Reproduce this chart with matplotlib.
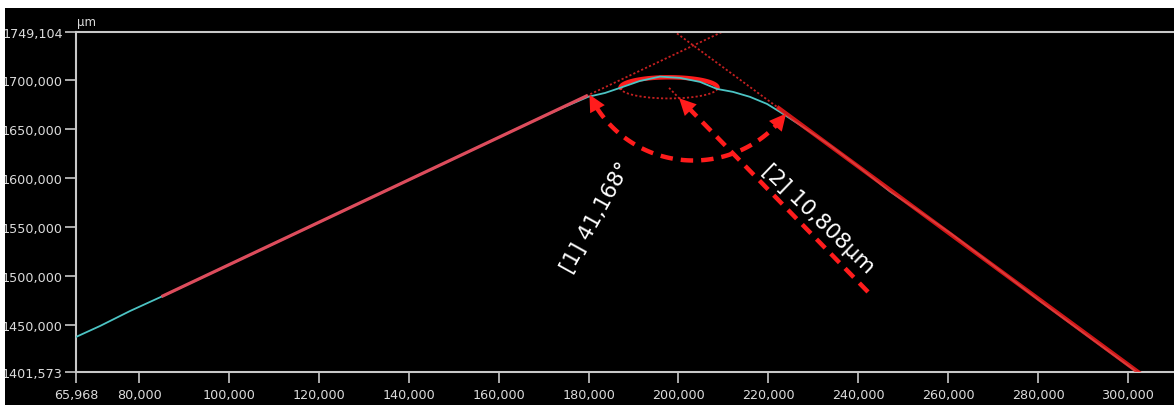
import numpy as np
import matplotlib
matplotlib.use("Agg")
import matplotlib.pyplot as plt
from matplotlib.patches import Rectangle

# measured profile (x and height in µm)
profile_x = [65.968, 71.31, 77.98, 85.32, 93.55, 104.68, 115.80, 126.92, 138.05,
             149.17, 160.29, 169.19, 173.64, 179.87, 183.66, 187.00, 191.44,
             195.89, 200.34, 204.79, 208.57, 212.13, 215.91, 219.69, 222.59,
             227.04, 233.71, 240.39, 247.06, 253.73, 260.41, 267.08, 273.76,
             280.43, 287.10, 293.78, 300.45, 304.90]
profile_y = [1437.4, 1448.6, 1463.9, 1479.3, 1497.2, 1521.3, 1545.4, 1569.6, 1593.7,
             1617.8, 1642.0, 1661.3, 1670.5, 1682.8, 1686.8, 1692.0, 1699.1,
             1703.5, 1702.2, 1698.1, 1690.9, 1687.9, 1682.8, 1675.6, 1667.4,
             1654.1, 1633.2, 1610.2, 1586.1, 1565.2, 1543.7, 1520.7, 1497.7,
             1474.2, 1451.7, 1429.2, 1406.7, 1391.3]

# fitted flank lines: anchor point, slope, fitted x-range
left_anchor = (65.968, 1437.4)
left_slope = 2.169
left_fit_range = (85.3, 179.5)
right_anchor = (199.5, 1748.2)
right_slope = -3.373
right_fit_range = (222.3, 303.5)

# tip circle fit
circle_center = (197.9, 1692.0)
circle_radius = 10.808

# label leader tail for [2]
radius_tail = (242.17, 1483.4)

angle_text = "[1] 41,168°"
radius_text = "[2] 10,808µm"

x_ticks = [65.968, 80, 100, 120, 140, 160, 180, 200, 220, 240, 260, 280, 300]
y_ticks = [1401.573, 1450, 1500, 1550, 1600, 1650, 1700, 1749.104]
x_lim = (65.968, 310.24)
y_lim = (1401.573, 1749.104)

RED = "#ff1c1c"
DARK_RED = "#c42020"
CYAN = "#4cc4c4"
GRID_GRAY = "#c8c8c8"
LABEL_GRAY = "#dcdcdc"


def fmt(v):
    return f"{v:.3f}".replace(".", ",")


def line_y(anchor, slope, xs):
    xs = np.asarray(xs, dtype=float)
    return anchor[1] + slope * (xs - anchor[0])


W, H = 1174, 406
fig = plt.figure(figsize=(W / 100, H / 100), dpi=100, facecolor="white")
fig.add_artist(Rectangle((5 / W, 0), 1, (H - 9) / H, transform=fig.transFigure,
                         facecolor="black", edgecolor="none", zorder=0))

ax = fig.add_axes([76 / W, 33 / H, (W - 76) / W, 340 / H])
ax.set_facecolor("black")
ax.set_xlim(*x_lim)
ax.set_ylim(*y_lim)

for side in ["top", "left", "bottom"]:
    ax.spines[side].set_color(GRID_GRAY)
    ax.spines[side].set_linewidth(1.5)
ax.spines["right"].set_visible(False)

ax.set_xticks(x_ticks)
ax.set_xticklabels([fmt(v) for v in x_ticks])
ax.set_yticks(y_ticks)
ax.set_yticklabels([fmt(v) for v in y_ticks])
ax.tick_params(axis="both", direction="out", length=8, width=1.2,
               color=GRID_GRAY, labelcolor=LABEL_GRAY, labelsize=9.2)
ax.tick_params(axis="x", pad=3.5)
ax.tick_params(axis="y", pad=1.5)

dotted = dict(color=DARK_RED, lw=1.3, dashes=(1.2, 1.2), zorder=2)

# dotted extensions of the fitted flanks
lx = np.array([left_fit_range[1], 215])
ax.plot(lx, line_y(left_anchor, left_slope, lx), **dotted)
rx = np.array([195, right_fit_range[0]])
ax.plot(rx, line_y(right_anchor, right_slope, rx), **dotted)

# fitted circle: top half thick, bottom half dotted
t_top = np.linspace(0, np.pi, 80)
ax.plot(circle_center[0] + circle_radius * np.cos(t_top),
        circle_center[1] + circle_radius * np.sin(t_top),
        color=RED, lw=3.2, solid_capstyle="round", zorder=3)
t_bot = np.linspace(np.pi, 2 * np.pi, 80)
ax.plot(circle_center[0] + circle_radius * np.cos(t_bot),
        circle_center[1] + circle_radius * np.sin(t_bot), **dotted)

# profile
ax.plot(profile_x, profile_y, color=CYAN, lw=1.3, zorder=4)

# flank fits on top of the profile
rfx = np.array(right_fit_range)
ax.plot(rfx, line_y(right_anchor, right_slope, rfx), color=RED, lw=3.0, alpha=0.82, zorder=5)
lfx = np.array(left_fit_range)
ax.plot(lfx, line_y(left_anchor, left_slope, lfx), color="#dd4c5c", lw=2.3, zorder=5)

to_disp = ax.transData.transform
to_data = ax.transData.inverted().transform


def arrow_head(tip, base):
    ax.annotate("", xy=tip, xytext=base,
                arrowprops=dict(arrowstyle="-|>,head_length=1.0,head_width=0.5",
                                mutation_scale=12, color=RED, lw=0,
                                shrinkA=0, shrinkB=0), zorder=6)


dash = dict(color=RED, lw=3.2, dashes=(2.8, 1.8), zorder=6)
head_px = 15

# [1] angle arc between the flanks, drawn in screen space
xi = (right_anchor[1] - left_anchor[1] + left_slope * left_anchor[0]
      - right_slope * right_anchor[0]) / (left_slope - right_slope)
yi = line_y(left_anchor, left_slope, [xi])[0]
pi_d = to_disp((xi, yi))
pl_d = to_disp((xi - 10, line_y(left_anchor, left_slope, [xi - 10])[0]))
pr_d = to_disp((xi + 10, line_y(right_anchor, right_slope, [xi + 10])[0]))
phi_l = np.arctan2(pl_d[1] - pi_d[1], pl_d[0] - pi_d[0]) % (2 * np.pi)
phi_r = np.arctan2(pr_d[1] - pi_d[1], pr_d[0] - pi_d[0]) % (2 * np.pi)
arc_r = 115
delta = head_px / arc_r
phis = np.linspace(phi_l + delta, phi_r - delta, 120)
arc_d = np.column_stack([pi_d[0] + arc_r * np.cos(phis), pi_d[1] + arc_r * np.sin(phis)])
arc = to_data(arc_d)
ax.plot(arc[:, 0], arc[:, 1], **dash)
for a_tip, a_base in [(phi_l, phi_l + delta), (phi_r, phi_r - delta)]:
    tip = to_data((pi_d[0] + arc_r * np.cos(a_tip), pi_d[1] + arc_r * np.sin(a_tip)))
    base = to_data((pi_d[0] + arc_r * np.cos(a_base), pi_d[1] + arc_r * np.sin(a_base)))
    arrow_head(tip, base)

# [2] radius leader pointing at the circle
t = np.arctan2(radius_tail[1] - circle_center[1], radius_tail[0] - circle_center[0])
tip = (circle_center[0] + circle_radius * np.cos(t), circle_center[1] + circle_radius * np.sin(t))
ax.plot([circle_center[0], tip[0]], [circle_center[1], tip[1]], **dotted)
tip_d = to_disp(tip)
tail_d = to_disp(radius_tail)
u = (tail_d - tip_d) / np.hypot(*(tail_d - tip_d))
base = to_data(tip_d + u * head_px)
ax.plot([radius_tail[0], base[0]], [radius_tail[1], base[1]], **dash)
arrow_head(tip, base)

# labels
ax.text(181.7, 1560.5, angle_text, color="white", fontsize=15.5, rotation=61,
        ha="center", va="center", rotation_mode="anchor", zorder=7)
ax.text(231.0, 1558.5, radius_text, color="white", fontsize=15.5, rotation=-44,
        ha="center", va="center", rotation_mode="anchor", zorder=7)

fig.text(77 / W, (H - 29) / H, "µm", color=LABEL_GRAY, fontsize=8.5, va="bottom")

# white border strips of the screenshot
fig.add_artist(Rectangle((0, 0), 5 / W, 1, transform=fig.transFigure,
                         facecolor="white", edgecolor="none", zorder=20))
fig.add_artist(Rectangle((0, (H - 9) / H), 1, 9 / H, transform=fig.transFigure,
                         facecolor="white", edgecolor="none", zorder=20))

fig.savefig("out.png", dpi=100, facecolor=fig.get_facecolor())
